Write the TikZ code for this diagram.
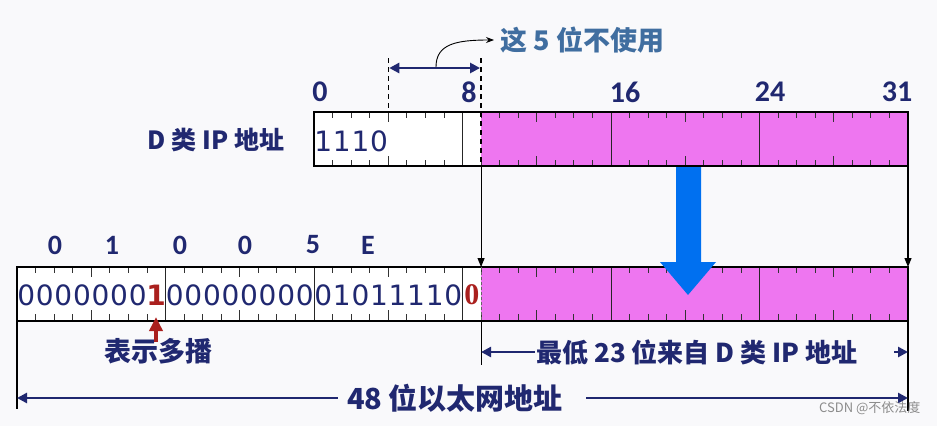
\documentclass[tikz,border=0pt]{standalone}
\usepackage{fontspec}
\setmainfont{Noto Sans CJK SC}
\newfontfamily\numfont{Carlito}
\newfontfamily\bitfont{DejaVu Sans}
\newfontfamily\serfont{Liberation Serif}
\usetikzlibrary{arrows.meta,positioning,calc}
\definecolor{navy}{RGB}{32,40,112}
\definecolor{steel}{RGB}{64,110,160}
\definecolor{pinkfill}{RGB}{238,118,240}
\definecolor{bigblue}{RGB}{0,112,240}
\definecolor{darkred}{RGB}{170,32,30}
\definecolor{bggrey}{RGB}{249,249,251}
\newcommand{\bitw}{18.5625}
\tikzset{
  whitebox/.style={draw=none,fill=white,inner sep=0pt,outer sep=0pt,anchor=north west,minimum height=54pt},
  pinkbox/.style={whitebox,fill=pinkfill},
  frame/.style={draw=black,line width=2.8pt},
  tick/.style={draw=black!80,line width=0.8pt},
  sepline/.style={draw=black!85,line width=0.9pt},
  cutline/.style={draw=black,line width=1.4pt,dash pattern=on 5pt off 4pt},
  bitdigit/.style={font=\bitfont\fontsize{28}{28}\selectfont,text=navy,inner sep=0pt},
  redbit/.style={bitdigit,font=\bitfont\bfseries\fontsize{28}{28}\selectfont,text=darkred},
  redserif/.style={bitdigit,font=\serfont\bfseries\fontsize{30}{30}\selectfont,text=darkred},
  poslab/.style={font=\numfont\bfseries\fontsize{30}{30}\selectfont,text=navy,inner sep=0pt},
  cjklab/.style={font=\bfseries\fontsize{25}{25}\selectfont,text=navy,inner sep=1pt},
  dimarrow/.style={-{Triangle[length=10pt,width=10pt]},draw=navy,line width=2.8pt},
  thinarrow/.style={-{Triangle[length=9pt,width=7pt]},draw=black,line width=1.1pt}
}

\begin{document}
\begin{tikzpicture}[x=1pt,y=-1pt]
  \useasboundingbox[fill=bggrey] (0,0) rectangle (937,426);
  % top field: class D address
  \node[whitebox,minimum width={9*\bitw}] (dhigh) at (314,112) {};
  \node[pinkbox,minimum width={23*\bitw}] (dlow) at (dhigh.north east) {};
  % bottom field: ethernet address
  \node[whitebox,minimum width={25*\bitw}] (mhigh) at (17,267) {};
  \node[pinkbox,minimum width={23*\bitw}] (mlow) at (mhigh.north east) {};

  % ticks
  \foreach \i in {1,...,31}{
    \pgfmathsetmacro{\tl}{mod(\i,8)==4 ? 10 : 6}
    \draw[tick] ({314+\i*\bitw},112) -- ++(0,\tl);
    \draw[tick] ({314+\i*\bitw},166) -- ++(0,-\tl);
  }
  \foreach \i in {1,...,47}{
    \pgfmathsetmacro{\tl}{mod(\i,8)==4 ? 10 : 6}
    \draw[tick] ({17+\i*\bitw},267) -- ++(0,\tl);
    \draw[tick] ({17+\i*\bitw},320) -- ++(0,-\tl);
  }
  \foreach \i in {8,16,24}
    \draw[sepline] ({314+\i*\bitw},112) -- ({314+\i*\bitw},166);
  \foreach \i in {8,16,24,32,40}
    \draw[sepline] ({17+\i*\bitw},267) -- ({17+\i*\bitw},320);

  \draw[frame] (dhigh.north west) rectangle (dlow.south east);
  \draw[frame] (mhigh.north west) rectangle (mlow.south east);

  % unused 5 bits
  \coordinate (cut4) at ({314+4*\bitw},58);
  \coordinate (cut9) at (dlow.north west |- cut4);
  \draw[cutline] (cut4) -- (cut4 |- dhigh.north);
  \draw[cutline] (cut9) -- (dlow.south west);
  \draw[draw=black!60,line width=0.8pt,dash pattern=on 3pt off 2pt] (mlow.north west) -- (mlow.south west);
  \coordinate (spanl) at ($(cut4)+(1,10)$);
  \coordinate (spanr) at ($(cut9)+(-1,10)$);
  \draw[{Triangle[length=10pt,width=10pt]}-{Triangle[length=10pt,width=10pt]},draw=navy,line width=2.8pt] (spanl) -- (spanr);
  \node[font=\bfseries\fontsize{27}{27}\selectfont,text=steel,anchor=west,inner sep=0pt] (unused) at (500,40) {这 5 位不使用};
  \coordinate (curvefrom) at (436,67);
  \draw[-{Stealth[length=8pt]},line width=0.9pt] (curvefrom) .. controls (436,44) and (456,40) .. ($(unused.west)+(-6,0)$);

  % bit positions
  \node[poslab] (p0) at (320,92) {0};
  \node[poslab] (p8) at (469,92) {8};
  \node[poslab] (p16) at (625,92) {16};
  \node[poslab] (p24) at (770,92) {24};
  \node[poslab] (p31) at (897,92) {31};
  \node[cjklab] (dname) at (216,140) {D 类 IP 地址};

  \foreach \b [count=\i from 0] in {1,1,1,0}
    \node[bitdigit] (d\i) at ({314+(\i+0.5)*\bitw},141) {\b};

  % hex digits
  \foreach \h/\x in {0/55,1/112,0/180,0/245,5/313,E/368}
    \node[poslab,font=\numfont\bfseries\fontsize{28}{28}\selectfont] (hex\x) at (\x,245) {\h};

  % ethernet bits
  \foreach \i in {0,...,6}
    \node[bitdigit] (m\i) at ({17+(\i+0.5)*\bitw},295) {0};
  \node[redbit] (m7) at ({17+7.5*\bitw},295) {1};
  \foreach \b [count=\i from 8] in {0,0,0,0,0,0,0,0,0,1,0,1,1,1,1,0}
    \node[bitdigit] (m\i) at ({17+(\i+0.5)*\bitw},295) {\b};
  \node[redserif] (m24) at ({17+24.5*\bitw},295) {0};

  % mapping arrows
  \draw[thinarrow] (dlow.south west) -- (mlow.north west);
  \draw[thinarrow] (dlow.south east) -- (mlow.north east);
  \fill[bigblue] (676,167) -- (701,167) -- (701,262) -- (716,262) -- (688,295) -- (660,262) -- (676,262) -- cycle;

  % multicast bit
  \node[cjklab,font=\bfseries\fontsize{27}{27}\selectfont] (mcast) at (158,351) {表示多播};
  \draw[-{Triangle[length=14pt,width=13pt]},draw=darkred,line width=4.5pt] (156,342) -- (156,317);

  % dimension lines
  \draw[line width=1.1pt] (mhigh.south west) -- ++(0,88);
  \draw[line width=1.1pt] (mlow.south west) -- ++(0,44);
  \draw[line width=1.1pt] (mlow.south east) -- ++(0,90);
  \node[cjklab,font=\bfseries\fontsize{26}{26}\selectfont] (low23) at (697,352) {最低 23 位来自 D 类 IP 地址};
  \coordinate (l23l) at (mlow.south west |- low23);
  \coordinate (l23r) at (mlow.south east |- low23);
  \draw[dimarrow] (low23.west) -- (l23l);
  \draw[dimarrow] ($(l23r)+(-14,0)$) -- (l23r);
  \node[cjklab,font=\bfseries\fontsize{29}{29}\selectfont] (eth48) at (455,398) {48 位以太网地址};
  \coordinate (e48l) at (mhigh.south west |- eth48);
  \coordinate (e48r) at (mlow.south east |- eth48);
  \draw[dimarrow] ($(eth48.west)+(-8,0)$) -- (e48l);
  \draw[dimarrow] ($(eth48.east)+(22,0)$) -- (e48r);

  \node[font=\fontsize{13}{13}\selectfont,text=black!45,anchor=east] (mark) at (924,408) {CSDN @不依法度};
\end{tikzpicture}
\end{document}
